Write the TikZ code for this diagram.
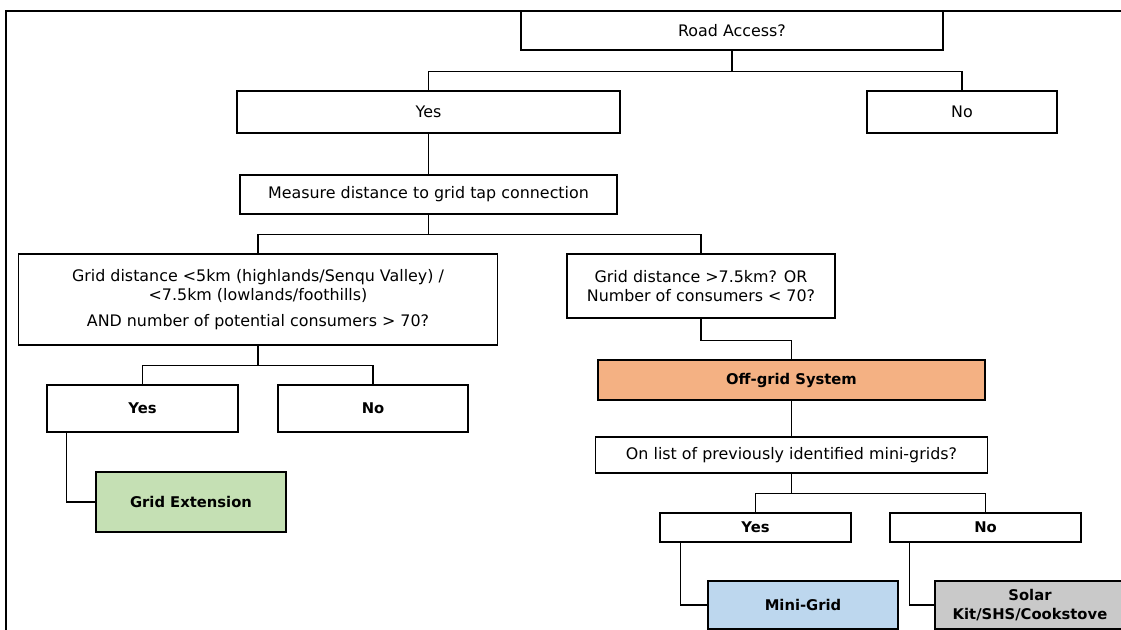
\documentclass[tikz,border=0pt]{standalone}
\usepackage{fontspec}
\setmainfont{DejaVu Sans}

\definecolor{offgridfill}{HTML}{F4B183}
\definecolor{gridextfill}{HTML}{C5E0B4}
\definecolor{minigridfill}{HTML}{BDD7EE}
\definecolor{solarfill}{HTML}{C9C9C9}

\tikzset{
  box/.style={draw, line width=1pt, inner sep=0pt, align=center,
    font=\fontsize{11.3}{13.5}\selectfont},
  strong/.style={box, font=\fontsize{10.5}{13}\selectfont\bfseries},
  wh/.style 2 args={minimum width=#1*0.025cm, minimum height=#2*0.025cm},
  link/.style={line width=0.95pt},
}

\begin{document}
\begin{tikzpicture}[x=0.025cm,y=-0.025cm]
\useasboundingbox (0,0) rectangle (1121,630);
\draw[line width=1.3pt] (6,640) -- (6,11) -- (1130,11);

% first question
\node[box, wh={422}{39}] (road) at (732,30.5) {Road Access?};
\node[box, wh={383}{42}] (yesA) at (428.5,112) {Yes};
\node[box, wh={190}{42}] (noA) at (962,112) {No};
\draw[link] (road.south) -- ++(0,21) coordinate (roadj) -| (yesA.north);
\draw[link] (roadj) -| (noA.north);

\node[box, wh={377}{39}] (measure) at (428.5,194.5)
  {Measure distance to grid tap connection};
\draw[link] (yesA.south) -- (measure.north);

% grid distance
\node[box, wh={479}{91}] (gridL) at (258,299.5)
  {Grid distance <5km (highlands/Senqu Valley) /\\
   <7.5km (lowlands/foothills)\\[5pt]
   AND number of potential consumers > 70?};
\node[box, wh={268}{64}] (gridR) at (701,286)
  {Grid distance >7.5km? OR\\ Number of consumers < 70?};
\draw[link] (measure.south) -- ++(0,20) coordinate (measj) -| (gridL.north);
\draw[link] (measj) -| (gridR.north);

% grid extension branch
\node[strong, wh={191}{47}] (yesB) at (142.5,408.5) {Yes};
\node[strong, wh={190}{47}] (noB) at (373,408.5) {No};
\draw[link] (gridL.south) -- ++(0,20) coordinate (gridj) -| (yesB.north);
\draw[link] (gridj) -| (noB.north);

\node[strong, wh={190}{60}, fill=gridextfill] (gridext) at (191,502) {Grid Extension};
\draw[link] (yesB.south west) ++(20,0) |- (gridext.west);

% off-grid branch
\node[strong, wh={387}{40}, fill=offgridfill] (offgrid) at (791.5,380) {Off-grid System};
\draw[link] (gridR.south) -- ++(0,22) -| (offgrid.north);

\node[box, wh={392}{36}] (onlist) at (791.5,455)
  {On list of previously identified mini-grids?};
\draw[link] (offgrid.south) -- (onlist.north);

\node[strong, wh={191}{29}] (yesC) at (755.5,527.5) {Yes};
\node[strong, wh={191}{29}] (noC) at (985.5,527.5) {No};
\draw[link] (onlist.south) -- ++(0,20) coordinate (listj) -| (yesC.north);
\draw[link] (listj) -| (noC.north);

\node[strong, wh={190}{48}, fill=minigridfill] (minigrid) at (803,605) {Mini-Grid};
\node[strong, wh={190}{48}, fill=solarfill] (solar) at (1030,605)
  {Solar\\ Kit/SHS/Cookstove};
\draw[link] (yesC.south west) ++(21,0) |- (minigrid.west);
\draw[link] (noC.south west) ++(20,0) |- (solar.west);
\end{tikzpicture}
\end{document}
